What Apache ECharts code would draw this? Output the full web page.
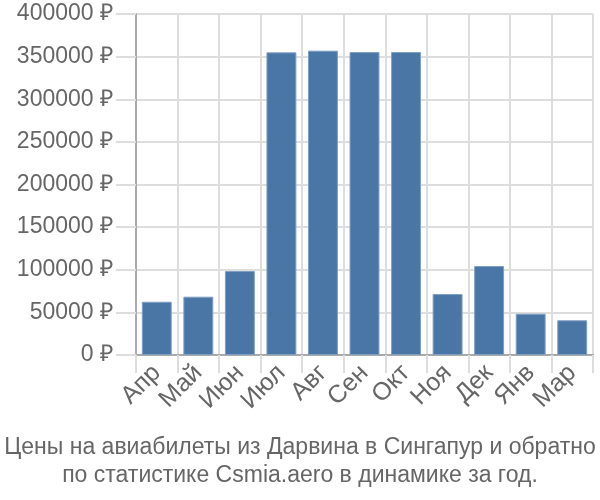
<!DOCTYPE html>
<html><head><meta charset="utf-8">
<script src="https://cdn.jsdelivr.net/npm/echarts@6/dist/echarts.min.js"></script>
<style>html,body{margin:0;padding:0;background:#fff}#c{width:600px;height:500px}</style>
</head><body><div id="c"></div>
<script>
const categories = ['Апр','Май','Июн','Июл','Авг','Сен','Окт','Ноя','Дек','Янв','Мар'];
const prices = [62500, 68400, 98500, 355000, 357000, 355400, 355400, 71500, 104400, 48400, 40700];
const titleLines = ['Цены на авиабилеты из Дарвина в Сингапур и обратно','по статистике Csmia.aero в динамике за год.'];
const chart = echarts.init(document.getElementById('c'), null, {renderer:'canvas'});
const font = 'Liberation Sans, Arial, sans-serif';
chart.setOption({
  animation:false,
  title:{text:titleLines.join('\n'), left:'center', bottom:5,
    textStyle:{fontFamily:font, fontSize:23, fontWeight:'normal', color:'#666', lineHeight:28}},
  grid:{left:136, right:7, top:14, bottom:145, containLabel:false},
  xAxis:{type:'category', data:categories,
    axisLine:{lineStyle:{color:'#aaa', width:2}},
    axisTick:{show:true, length:18, alignWithLabel:false, lineStyle:{color:'#ddd', width:2}},
    splitLine:{show:true, lineStyle:{color:'#ddd', width:2}},
    axisLabel:{rotate:45, fontFamily:font, fontSize:25, color:'#666', margin:14, interval:0}},
  yAxis:{type:'value', min:0, max:400000, interval:50000,
    axisLine:{show:true, lineStyle:{color:'#aaa', width:2}},
    axisTick:{show:true, length:20, lineStyle:{color:'#ddd', width:2}},
    splitLine:{show:true, lineStyle:{color:'#ddd', width:2}},
    axisLabel:{fontFamily:font, fontSize:23, color:'#666', margin:23, formatter:v=>v+' ₽'}},
  series:[{type:'bar', data:prices, barCategoryGap:'28%',
    itemStyle:{color:'#4a76a6', borderColor:'#7f9fc4', borderWidth:1}}]
});
</script></body></html>
